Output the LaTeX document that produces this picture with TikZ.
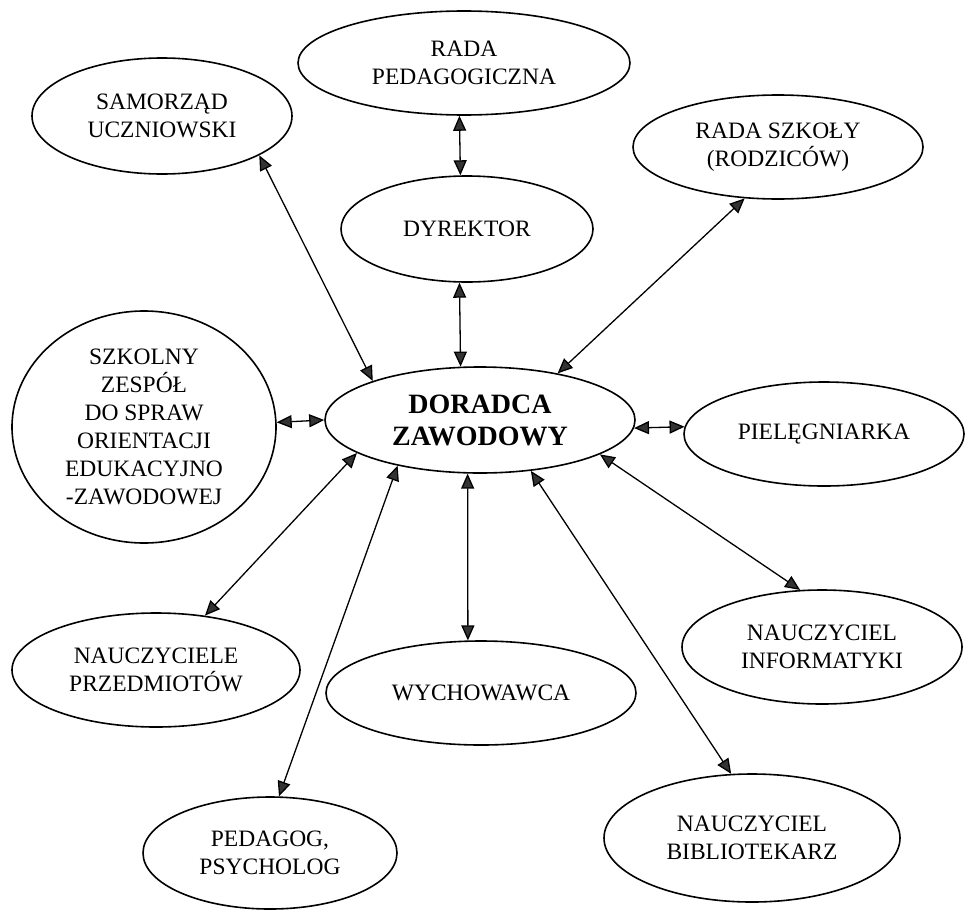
\documentclass[tikz,border=0pt]{standalone}
\usepackage{fontspec}
\setmainfont{Liberation Serif}
\usetikzlibrary{shapes.geometric,arrows.meta}
\begin{document}
\begin{tikzpicture}[x=1pt,y=-1pt,
	oval/.style={draw,ellipse,line width=1.6pt,inner sep=0pt,align=center,font=\fontsize{23.5}{28}\selectfont},
	biarrow/.style={line width=1.3pt,{Triangle[length=15pt,width=13pt,fill=black!80]}-{Triangle[length=15pt,width=13pt,fill=black!80]}}]
\useasboundingbox (0,0) rectangle (965,910);
\path
	(162,116) node[oval,minimum width=260pt,minimum height=116pt] (samorzad) {SAMORZĄD\\UCZNIOWSKI}
	(464,63) node[oval,minimum width=332pt,minimum height=104pt] (radaped) {RADA\\PEDAGOGICZNA}
	(778,147) node[oval,minimum width=290pt,minimum height=104pt] (radaszk) {RADA SZKOŁY\\(RODZICÓW)}
	(467,229) node[oval,minimum width=252pt,minimum height=106pt] (dyrektor) {DYREKTOR}
	(144,427) node[oval,minimum width=264pt,minimum height=232pt] (zespol) {SZKOLNY\\ZESPÓŁ\\DO SPRAW\\ORIENTACJI\\EDUKACYJNO\\-ZAWODOWEJ}
	(480,420) node[oval,minimum width=310pt,minimum height=106pt,font=\bfseries\fontsize{28}{32}\selectfont] (doradca) {DORADCA\\ZAWODOWY}
	(824,434) node[oval,minimum width=280pt,minimum height=104pt] (piel) {PIELĘGNIARKA}
	(156,670) node[oval,minimum width=288pt,minimum height=114pt] (nauczyciele) {NAUCZYCIELE\\PRZEDMIOTÓW}
	(481,693) node[oval,minimum width=310pt,minimum height=104pt] (wychow) {WYCHOWAWCA}
	(822,647) node[oval,minimum width=280pt,minimum height=114pt] (informat) {NAUCZYCIEL\\INFORMATYKI}
	(270,853) node[oval,minimum width=254pt,minimum height=112pt] (pedagog) {PEDAGOG,\\PSYCHOLOG}
	(752,838) node[oval,minimum width=296pt,minimum height=128pt] (bibliot) {NAUCZYCIEL\\BIBLIOTEKARZ};
\draw[biarrow] (radaped.265.6) -- (dyrektor.97.7);
\draw[biarrow] (dyrektor.262.5) -- (doradca.110.7);
\draw[biarrow] (samorzad.-22.3) -- (doradca.160);
\draw[biarrow] (radaszk.-123.4) -- (doradca.31.5);
\draw[biarrow] (zespol.2) -- (doradca.180);
\draw[biarrow] (doradca.-3) -- (piel.177.6);
\draw[biarrow] (doradca.195) -- (nauczyciele.48.7);
\draw[biarrow] (doradca.209.5) -- (pedagog.81.9);
\draw[biarrow] (doradca.257) -- (wychow.104);
\draw[biarrow] (doradca.-45) -- (bibliot.108.7);
\draw[biarrow] (doradca.-16.5) -- (informat.111);
\end{tikzpicture}
\end{document}
